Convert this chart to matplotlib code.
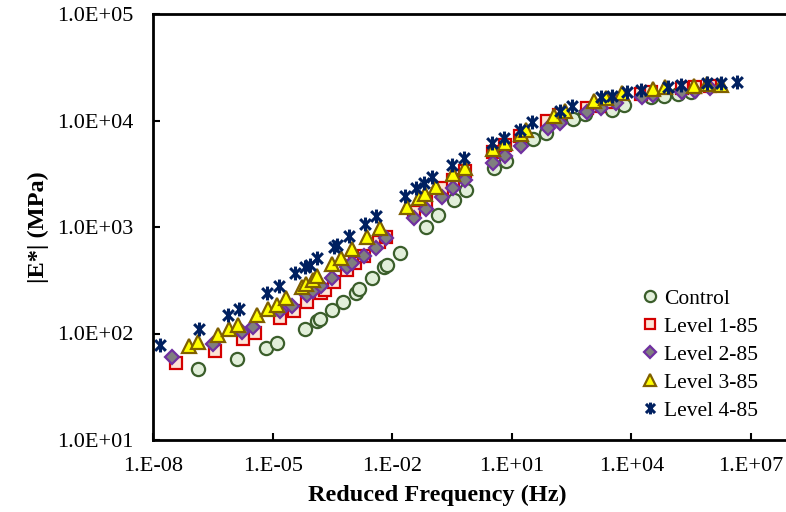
import numpy as np
import matplotlib
matplotlib.use("Agg")
import matplotlib.pyplot as plt
from matplotlib.path import Path
from matplotlib.ticker import FixedLocator, FuncFormatter, NullLocator

plt.rcParams['font.family'] = ['Liberation Serif', 'DejaVu Serif']

# ---- data (reduced frequency in Hz, |E*| in MPa) ----
control_f = [1.33e-7, 1.26e-6, 6.68e-6, 1.26e-5, 6.31e-5, 1.26e-4, 1.58e-4, 3.16e-4, 5.96e-4,
             1.26e-3, 1.50e-3, 3.16e-3, 6.31e-3, 7.50e-3, 1.58e-2, 7.08e-2, 0.141, 0.355, 0.708,
             3.55, 7.08, 33.5, 70.8, 335, 668, 3160, 6310, 31600, 66800, 1.5e5, 3.16e5]
control_e = [46.4, 57.7, 73.1, 81.5, 110, 131, 137, 166, 198,
             240, 262, 332, 421, 440, 570, 1000, 1297, 1795, 2223,
             3580, 4170, 6700, 7640, 10300, 11500, 12600, 14000, 16600, 17000, 17700, 18500]

l1_f = [3.76e-8, 3.55e-7, 1.78e-6, 3.55e-6, 1.5e-5, 3.35e-5, 7.08e-5, 1.68e-4, 2.0e-4, 3.55e-4,
        7.5e-4, 1.19e-3, 2.0e-3, 4.73e-3, 7.08e-3, 3.55e-2, 7.08e-2, 0.178, 0.335, 0.668,
        3.35, 6.68, 15.8, 75, 150, 750, 1500, 3160, 17800, 31600, 1.88e5, 3.98e5, 9.44e5]
l1_e = [52.9, 68.5, 88.7, 101, 140, 163, 198, 240, 256, 305,
        394, 459, 535, 723, 805, 1383, 1718, 2323, 2760, 3360,
        5060, 5890, 7140, 9890, 11300, 13100, 13700, 14900, 17700, 18500, 20200, 20700, 21100]

l2_f = [2.99e-8, 3.16e-7, 1.68e-6, 3.16e-6, 1.5e-5, 2.99e-5, 7.08e-5, 1.0e-4, 1.68e-4, 3.16e-4,
        7.5e-4, 1.0e-3, 2.0e-3, 3.98e-3, 7.08e-3, 3.55e-2, 7.08e-2, 0.178, 0.335, 0.668,
        3.35, 6.68, 16.8, 79.4, 158, 750, 1680, 3980, 18800, 35500, 1.88e5, 3.98e5, 9.44e5]
l2_e = [60.1, 79.6, 103, 115, 163, 181, 230, 251, 279, 332,
        421, 459, 535, 635, 788, 1216, 1476, 1914, 2323, 2760,
        3990, 4640, 5770, 8510, 9480, 12000, 13100, 14600, 16600, 17300, 18500, 18900, 20200]

l3_f = [7.94e-8, 1.33e-7, 4.22e-7, 7.94e-7, 1.33e-6, 3.98e-6, 7.5e-6, 1.26e-5, 2.11e-5, 5.31e-5,
        6.68e-5, 1.0e-4, 1.33e-4, 3.16e-4, 5.31e-4, 1.0e-3, 2.37e-3, 5.01e-3, 2.37e-2, 4.73e-2,
        6.68e-2, 0.126, 0.335, 0.668, 3.35, 6.68, 16.8, 22.4, 112, 211, 1120, 2240, 5620,
        35500, 70800, 3.76e5, 7.94e5, 1.78e6]
l3_e = [76.4, 83.2, 96.8, 110, 120, 149, 170, 185, 215, 273,
        292, 318, 347, 450, 512, 621, 805, 979, 1540, 1872,
        2040, 2376, 3150, 3580, 5390, 6150, 7470, 8150, 11000, 12300, 15200, 16300, 18100,
        19800, 20700, 21100, 22000, 21500]

l4_f = [1.5e-8, 1.41e-7, 7.5e-7, 1.41e-6, 7.08e-6, 1.41e-5, 3.55e-5, 6.31e-5, 8.41e-5, 1.33e-4,
        3.55e-4, 4.22e-4, 8.41e-4, 2.11e-3, 3.98e-3, 2.11e-2, 3.98e-2, 6.31e-2, 0.1, 0.316,
        0.631, 3.16, 6.31, 15.8, 31.6, 158, 316, 1680, 3160, 7500, 17800, 84100, 1.78e5,
        7.94e5, 1.78e6, 4.47e6]
l4_e = [77.9, 110, 149, 170, 240, 279, 370, 421, 440, 512,
        649, 678, 823, 1067, 1268, 1955, 2323, 2587, 2946, 3820,
        4450, 6150, 6850, 8150, 9680, 12300, 13700, 16600, 17000, 18500, 19300, 20700, 21500,
        22500, 22500, 23000]

labels = ["Control", "Level 1-85", "Level 2-85", "Level 3-85", "Level 4-85"]
x_ticks = [1e-8, 1e-5, 1e-2, 1e1, 1e4, 1e7]
y_ticks = [1e1, 1e2, 1e3, 1e4, 1e5]

# asterisk marker (x with vertical bar)
star = Path([(-1, -1), (1, 1), (-1, 1), (1, -1), (0, 1.3), (0, -1.3)],
            [Path.MOVETO, Path.LINETO, Path.MOVETO, Path.LINETO, Path.MOVETO, Path.LINETO])

fig = plt.figure(figsize=(7.86, 5.12), dpi=100)
ax = fig.add_axes([153 / 786, 72 / 512, 638 / 786, 426 / 512])

ax.plot(control_f, control_e, 'o', ls='none', ms=9.5, mfc='#e2efda', mec='#3b5e2b', mew=1.6, label=labels[0])
ax.plot(l1_f, l1_e, 's', ls='none', ms=9, mfc='#fce4d6', mec='#d40000', mew=1.6, label=labels[1])
ax.plot(l2_f, l2_e, 'D', ls='none', ms=7, mfc='#7f7f7f', mec='#7030a0', mew=1.6, label=labels[2])
ax.plot(l3_f, l3_e, '^', ls='none', ms=10, mfc='#ffff00', mec='#806000', mew=1.6, label=labels[3])
ax.plot(l4_f, l4_e, marker=star, ls='none', ms=10, mfc='none', mec='#002060', mew=2.2, label=labels[4])

ax.set_xscale('log')
ax.set_yscale('log')
ax.set_xlim(1e-8, 1e8)
ax.set_ylim(1e1, 1e5)

ax.xaxis.set_major_locator(FixedLocator(x_ticks))
ax.yaxis.set_major_locator(FixedLocator(y_ticks))
ax.xaxis.set_minor_locator(NullLocator())
ax.yaxis.set_minor_locator(NullLocator())
ax.xaxis.set_major_formatter(FuncFormatter(lambda v, p: "1.E%+03d" % int(round(np.log10(v)))))
ax.yaxis.set_major_formatter(FuncFormatter(lambda v, p: "1.0E%+03d" % int(round(np.log10(v)))))

ax.tick_params(axis='both', direction='in', length=5, width=1.5, labelsize=16, colors='black')
ax.tick_params(axis='x', pad=12)
ax.tick_params(axis='y', pad=14)
for s in ax.spines.values():
    s.set_linewidth(2)
    s.set_color('black')

ax.set_xlabel("Reduced Frequency (Hz)", fontsize=17.5, fontweight='bold', labelpad=5)
ax.xaxis.set_label_coords((437 - 153) / 638, -0.105)
ax.set_ylabel("|E*| (MPa)", fontsize=17.5, fontweight='bold', labelpad=6)

leg = ax.legend(loc='upper left', bbox_to_anchor=(631 / 786, 1 - 278 / 512),
                bbox_transform=fig.transFigure, frameon=False, fontsize=15.5,
                handlelength=0.8, handletextpad=0.25, labelspacing=0.37, borderpad=0,
                markerscale=0.85)

fig.savefig("out.png", dpi=100)
